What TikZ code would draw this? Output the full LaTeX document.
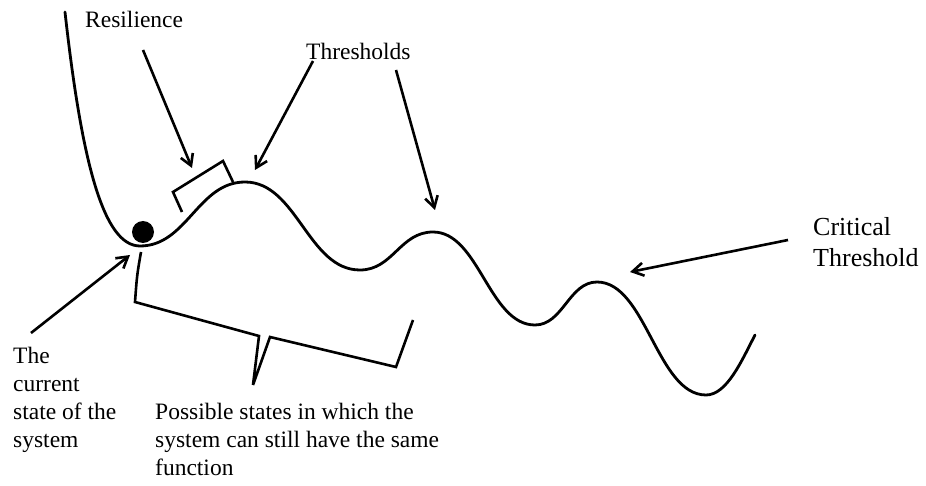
\documentclass[tikz,border=0pt]{standalone}
\usepackage{fontspec}
\setmainfont{Liberation Serif}
\usetikzlibrary{arrows.meta}
\begin{document}
\begin{tikzpicture}[x=1pt,y=1pt,
  curve/.style={line width=2.8pt,line cap=round,line join=round},
  pointer/.style={line width=2.6pt,-{Straight Barb[length=11pt,width=13pt]}},
  bracket/.style={line width=2.6pt,line join=miter},
  lbl/.style={anchor=base west,inner sep=0pt,align=left,
    font=\fontsize{23.5}{28}\selectfont},
  biglbl/.style={anchor=base west,inner sep=0pt,align=left,
    font=\fontsize{26}{32}\selectfont}]
\useasboundingbox (0,0) rectangle (926,485);
% landscape curve
\draw[curve] (65,473) .. controls (82,320) and (104,239) .. (140,239)
  .. controls (187,239) and (198,303) .. (245,303)
  .. controls (297,303) and (308,215) .. (360,215)
  .. controls (393,215) and (400,253) .. (433,253)
  .. controls (479,253) and (489,160) .. (535,160)
  .. controls (563,160) and (569,203) .. (597,203)
  .. controls (646,203) and (657,90) .. (706,90)
  .. controls (727,90) and (742,125) .. (755,150);
% ball
\fill (143,253) circle (11);
% labels (base anchor = baseline of last line)
\node[lbl] (res) at (85,457) {Resilience};
\node[lbl] (thr) at (306,425) {Thresholds};
\node[biglbl] (crit) at (813,218) {Critical\\Threshold};
\node[lbl] (cur) at (13,38) {The\\current\\state of the\\system};
\node[lbl] (pos) at (155,10) {Possible states in which the\\system can still have the same\\function};
% arrow coordinates
\coordinate (resS) at (143,435);  \coordinate (resT) at (192,317);
\coordinate (th1S) at (313,424);  \coordinate (th1T) at (255,315);
\coordinate (th2S) at (396,415);  \coordinate (th2T) at (435,275);
\coordinate (critS) at (788,245); \coordinate (critT) at (630,213);
\coordinate (curS) at (31,152);   \coordinate (curT) at (130,230);
\draw[pointer] (resS) -- (resT);
\draw[pointer] (th1S) -- (th1T);
\draw[pointer] (th2S) -- (th2T);
\draw[pointer] (critS) -- (critT);
\draw[pointer] (curS) -- (curT);
% resilience bracket
\draw[bracket] (182,273) -- (173,293) -- (223,324) -- (233,303);
% big brace
\draw[bracket] (141,233) .. controls (137,210) .. (135,183) -- (259,149) -- (253,100)
  (253,100) -- (270,148) -- (396,118) -- (413,165);
\end{tikzpicture}
\end{document}
